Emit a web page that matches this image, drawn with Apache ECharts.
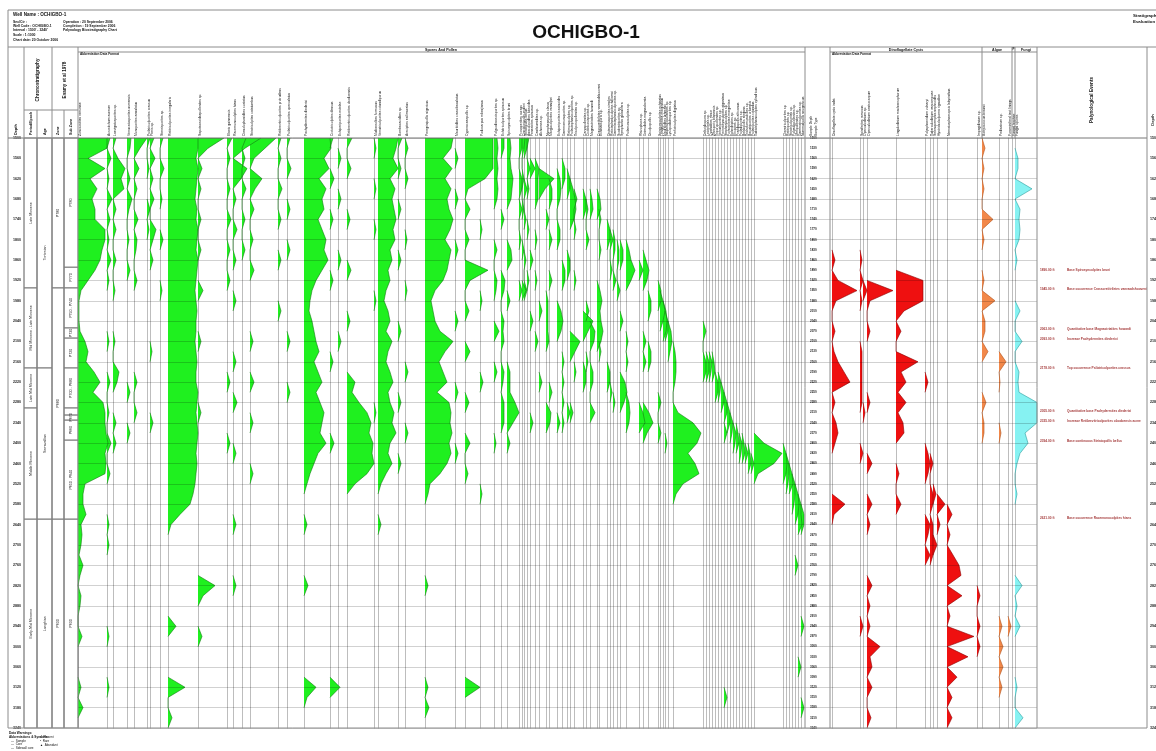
<!DOCTYPE html>
<html><head><meta charset="utf-8">
<script src="https://cdn.jsdelivr.net/npm/echarts/dist/echarts.min.js"></script>
<style>html,body{margin:0;padding:0;background:#fff}#c{width:1156px;height:751px}</style>
</head><body><div id="c"></div><script>
// ---------------- DATA ----------------
const sampleDepths = [1500,1530,1560,1590,1620,1650,1680,1710,1740,1770,1800,1830,1860,1890,1920,1950,1980,2010,2040,2070,2100,2130,2160,2190,2220,2250,2280,2310,2340,2370,2400,2430,2460,2490,2520,2550,2580,2610,2640,2670,2700,2730,2760,2790,2820,2850,2880,2910,2940,2970,3000,3030,3060,3090,3120,3150,3180,3210,3240];

const periodNames = ['Late Miocene','Mid Miocene - Late Miocene','Late Mid Miocene','Middle Miocene','Early-Mid Miocene'];
const periodBounds = [1500,1942,2178,2296,2624,3240];
const ageNames = ['Tortonian','Serravallian','Langhian'];
const ageBounds = [1500,2178,2624,3240];
const zoneNames = ['P780','P680','P630'];
const zoneBounds = [1500,1942,2624,3240];
const subzoneNames = ['P780','P770','P750 - P740','P730','P720','P700 - P680','','P670','P660','P650 - P640','P630'];
const subzoneBounds = [1500,1881,1942,2060,2090,2178,2296,2317,2332,2391,2624,3240];

const eventDepths = [1890,1945,2063,2093,2178,2305,2335,2394,2621];
const eventNames = ['Base Spirosyncolpites bruni','Base occurrence Crassoretitriletes vanraadshooveni','Quantitative base Magnastriatites howardi','Increase Pachydermites diederixi','Top occurrence Psilatricolporites crassus','Quantitative base Pachydermites diederixi','Increase Retibrevitricolporites obodoensis acme','Base continuous Striatopollis bellus','Base occurrence Racemonocolpites hians'];

const sporePollenNames = ['Zonocostites ramonae','Acrostichum aureum','Laevigatosporites sp.','Verrucatosporites usmensis','Monoporites annulatus','Psilatricolporites crassus','Pteris sp.','Stereisporites sp.','Retitricolporites irregularis','Sapotaceoidaepollenites sp.','Elaeis guineensis','Racemonocolpites hians','Ctenolophonidites costatus','Striatricolpites catatumbus','Retibrevitricolporites protrudens','Psilatricolporites operculatus','Pachydermites diederixi','Crototricolpites densus','Echiperiporites estelae','Retibrevitricolporites obodoensis','Multiareolites formosus','Verrutricolporites rotundiporus','Bombacacidites sp.','Arecipites exilimuratus','Peregrinipollis nigericus','Mauritiidites crassibaculatus','Cyperaceaepollis sp.','Podocarpus milanjianus','Polypodiaceoisporites sp.','Echitricolporites spinosus','Spirosyncolpites bruni','Proxapertites cursus','Cinctiporipollis mulleri','Striatopollis bellus','Anacolosidites luteoides','Fenestrites spinosus','Canthiumidites sp.','Alchornea sp.','Nympheaepollis clarus','Margocolporites vanwijhei','Echiperiporites icacinoides','Gemmamonoporites sp.','Retimonocolpites sp.','Psilastephanocolporites sp.','Tricolporopollenites sp.','Caryapollenites sp.','Cicatricosisporites sp.','Magnastriatites howardi','Crassoretitriletes vanraadshooveni','Echinatisporis sp.','Distaverrusporites simplex','Retistephanocolpites williamsi','Gemmastephanocolporites sp.','Scabratriporites sp.','Symphonia globulifera','Psilamonocolpites sp.','Rhizophora sp.','Grimsdalea magnaclavata','Dicolpopollis sp.','Spinizonocolpites echinatus','Longapertites marginatus','Mauritiidites lehmanii','Inaperturopollenites sp.','Lycopodiumsporites sp.','Perfotricolpites digitatus','Deltoidospora sp.','Leiotriletes sp.','Cyathidites minor','Zlivisporis blanensis','Triporopollenites sp.','Verrutriporites sp.','Periretisyncolpites giganteus','Stephanocolpites sp.','Foveotriletes margaritae','Ephedripites sp.','Ericipites sp.','Praedapollis africanus','Psiladiporites sp.','Belskipollis elegans','Trichotomosulcites sp.','Bacutriporites orluensis','Psilatriporites rotundus','Tubistephanocolpites cylindricus','Clavatricolporites sp.','Retitriporites sp.','Striatricolporites sp.','Polyadopollenites sp.','Ulmipollenites sp.','Gemmatricolporites sp.','Nummulipollis neogenicus'];

// counts: dense lists (one value per sample) or sparse [sampleIndex, count] pairs
const sporePollenCounts = [
 [29,29,10,27,12,19,14,17,17,27,27,24,22,17,10,3,1,1,1,2,7,10,8,16,22,15,25,27,27,28,30,27,28,27,7,5,5,8,3,4,3,1,5,2,0,3,2,0,0,4,0,0,0,0,3,0,5,0,0],
 [[0,3],[2,4],[4,2],[6,5],[8,3],[10,2],[12,4],[14,2],[20,2],[24,3],[27,2],[30,4],[33,3],[38,2],[40,2],[49,2],[54,2]],
 [[0,3],[2,5],[3,12],[4,8],[5,11],[7,3],[9,3],[12,3],[15,2],[20,2],[23,6],[24,4],[28,3],[30,3]],
 [[0,4],[1,3],[4,3],[6,5],[7,2],[10,2],[13,3],[25,3],[29,3]],
 [[0,13],[1,6],[3,5],[5,3],[8,4],[10,3],[11,2],[14,3],[24,3],[27,3]],
 [[0,3],[3,2],[7,3],[9,2]],
 [[0,4],[2,5],[4,3],[6,4],[9,6],[10,3],[12,3],[21,2],[28,3]],
 [[0,3],[3,4],[6,2],[10,3],[15,2]],
 [30,30,28,30,29,28,27,29,28,30,29,28,30,29,28,27,28,29,28,28,27,28,29,28,28,30,29,28,29,30,29,28,29,28,27,25,22,12,3,0,0,0,0,0,0,0,0,0,8,0,0,0,0,0,17,0,0,4,0],
 [[0,26],[1,10],[3,4],[5,3],[8,3],[11,3],[15,5],[20,3],[27,3],[44,17],[45,5],[49,4]],
 [[0,5],[2,3],[5,3],[8,4],[11,3],[14,3],[24,3],[30,3]],
 [[0,28],[1,12],[3,14],[4,8],[6,3],[9,4],[12,3],[16,3],[22,3],[26,4],[31,3],[38,3],[44,3]],
 [[0,4],[2,3],[5,4],[8,3],[11,3]],
 [[0,26],[1,15],[2,4],[4,12],[5,5],[7,4],[10,3],[13,4],[20,3],[24,4],[28,3],[33,3]],
 [[0,3],[2,3],[5,4],[8,3],[12,3],[17,3]],
 [[0,3],[3,4],[7,3],[11,3],[20,3],[25,3]],
 [26,27,20,25,15,22,18,20,14,18,22,20,24,18,12,8,6,5,8,10,12,15,10,14,18,12,16,20,18,16,22,14,10,6,3,0,0,0,3,0,0,0,0,0,4,0,0,0,0,0,0,0,0,0,12,3,0,0,0],
 [[0,3],[4,4],[8,3],[14,3],[22,3],[30,4],[54,10]],
 [[2,3],[6,3],[12,3],[20,3]],
 [[0,5],[3,4],[8,3],[13,4],[18,3],[24,8],[25,5],[26,12],[27,20],[28,24],[29,22],[30,26],[31,25],[32,27],[33,20],[34,8]],
 [[1,2],[5,2],[9,2],[16,2],[27,2]],
 [20,18,15,20,12,17,14,16,18,15,17,12,14,10,12,8,6,10,12,8,14,10,8,12,15,10,12,16,14,18,12,10,14,8,3,0,0,0,3,0,0,0,0,0,0,0,0,0,0,0,0,0,0,0,0,0,0,0,0],
 [[0,4],[3,3],[7,3],[12,3],[19,3],[26,3],[32,3]],
 [[1,3],[4,3],[10,2],[15,2],[23,3],[29,3]],
 [28,26,18,27,20,26,22,24,28,25,20,26,24,22,18,10,6,8,10,15,28,20,14,18,22,12,24,26,25,27,24,26,22,15,5,3,0,0,0,0,0,0,0,0,3,0,0,0,0,0,0,0,0,0,3,0,4,0,0],
 [[2,3],[6,3],[11,3],[18,3],[25,3],[31,3]],
 [[0,28],[1,28],[2,28],[3,28],[4,20],[5,3],[7,5],[10,4],[13,23],[14,5],[17,4],[21,5],[26,4],[30,5],[33,3],[54,15]],
 [[9,2],[16,2],[24,3],[35,2]],
 [[0,3],[1,4],[2,3],[3,4],[4,3],[5,4],[6,3],[11,3],[14,3],[15,2],[19,5],[23,3],[30,2]],
 [[0,3],[1,3],[8,3],[14,4],[15,3],[18,3],[19,2],[20,3],[23,3],[24,2],[26,3],[27,3],[28,3]],
 [[0,3],[1,4],[2,3],[3,4],[4,6],[5,5],[6,4],[11,4],[12,5],[16,3],[23,3],[24,3],[25,3],[26,8],[27,12],[28,6],[30,3]],
 [[0,3],[1,3],[4,3],[5,3],[7,3],[10,2],[15,3]],
 [[0,3],[1,2],[4,2],[7,2],[11,2],[15,4]],
 [[0,3],[1,3],[5,3],[8,2],[12,2],[15,3]],
 [[0,2],[3,3],[5,2],[9,2],[14,2]],
 [[3,5],[12,3],[18,3],[28,3]],
 [[3,4],[4,3],[5,3],[6,3],[10,2],[14,2],[20,3]],
 [[4,15],[5,6],[17,3],[24,3]],
 [[8,3],[16,2],[17,2],[18,2],[19,2],[20,3],[27,5],[28,4]],
 [[5,3],[6,3],[10,3],[14,3],[25,3]],
 [[4,3],[5,4],[6,3],[9,3],[10,3],[17,4],[18,6],[19,4],[28,3]],
 [[3,3],[4,3],[13,3],[14,3],[22,2],[24,2],[26,2],[28,2]],
 [[4,3],[5,3],[12,3],[13,3],[27,3]],
 [[5,3],[6,5],[7,6],[8,4],[20,10],[21,5],[27,3]],
 [[6,3],[9,2],[14,2],[23,2]],
 [[6,3],[7,3],[18,10],[19,5],[23,3],[24,3]],
 [[7,2],[10,3],[17,3],[22,2]],
 [[6,2],[7,3],[19,5],[20,4],[23,3],[24,3],[27,5]],
 [[6,3],[7,4],[15,3],[16,5],[17,3],[18,4],[19,6],[20,4]],
 [[8,2],[11,2],[21,2]],
 [[9,3],[10,3],[23,3],[24,3]],
 [[10,3],[13,2],[25,2]],
 [[10,2],[11,2],[14,3],[26,2]],
 [[11,2],[12,2],[15,3]],
 [[11,3],[12,3],[18,3],[24,5],[25,7],[26,4]],
 [[11,3],[12,5],[13,9],[14,5],[20,2],[22,2],[26,3],[27,4],[28,3]],
 [[13,4],[27,4],[28,6]],
 [[12,3],[13,6],[14,4],[20,3],[22,3],[27,6],[28,10],[29,4]],
 [[16,3],[17,3],[21,3],[22,3]],
 [[15,3],[16,3],[26,3],[29,3]],
 [[16,3],[17,5],[18,3]],
 [[17,3],[18,4],[19,3]],
 [[18,3],[19,3],[30,2]],
 [[19,3],[20,4],[21,2]],
 [[21,2],[22,3],[23,3],[24,2],[27,5],[28,20],[29,28],[30,24],[31,15],[32,22],[33,26],[34,10],[35,3]],
 [[19,3],[22,3],[23,3]],
 [[22,3],[23,3]],
 [[22,3],[23,2]],
 [[22,2],[23,3]],
 [[24,3],[25,3]],
 [[24,3],[25,2]],
 [[25,3],[26,3]],
 [[26,3],[27,3],[29,3],[55,3]],
 [[27,3],[28,3]],
 [[28,3],[29,2]],
 [[29,3],[30,2]],
 [[29,2],[30,3]],
 [[30,3],[31,2]],
 [[30,2],[31,3]],
 [[31,3]],
 [[31,2],[32,3]],
 [[32,3]],
 [[30,10],[31,28],[32,20],[33,4]],
 [[31,3],[32,4],[33,3]],
 [[32,3],[33,3],[34,2]],
 [[33,3],[34,4]],
 [[34,3],[35,3],[36,2]],
 [[35,3],[36,4],[37,3],[42,3]],
 [[36,3],[37,3],[38,4],[52,3]],
 [[37,3],[38,3],[48,3],[56,3]]
];

const dinocystNames = ['Dinoflagellate cysts indet.','Spiniferites ramosus','Operculodinium sp.','Operculodinium centrocarpum','Lingulodinium machaerophorum','Polysphaeridium zoharyi','Tuberculodinium vancampoae','Selenopemphix nephroides','Hystrichokolpoma rigaudiae','Nematosphaeropsis labyrinthus','Impagidinium sp.'];
const dinocystCounts = [
 [[12,3],[14,6],[15,25],[16,4],[19,3],[21,2],[22,6],[23,12],[24,18],[26,3],[28,4],[29,6],[30,3],[36,13],[37,2]],
 [[12,2],[14,3],[16,2],[21,2],[22,2],[23,2],[24,2],[25,2],[26,2],[31,3],[48,3]],
 [[15,4],[27,2]],
 [[15,26],[16,3],[19,3],[26,3],[32,5],[36,5],[38,3],[44,5],[46,3],[48,3],[50,13],[51,3],[52,5],[54,5],[57,4]],
 [[14,27],[15,27],[16,27],[17,8],[19,5],[22,22],[23,5],[24,10],[25,2],[26,10],[27,2],[28,7],[29,8],[33,3],[36,5]],
 [[24,3],[31,3],[32,5],[33,3],[38,5],[39,3],[41,5]],
 [[32,3],[35,3],[36,3],[38,3],[39,3],[40,3],[41,3]],
 [[35,3],[40,4]],
 [[36,8],[38,3]],
 [[37,5],[39,3],[41,6],[42,12],[43,14],[45,15],[47,3],[49,27],[51,21],[53,10],[55,5],[57,5]],
 [[45,3],[48,3],[50,3]]
];
const algaeNames = ['Botryococcus braunii','Pediastrum sp.','Foraminiferal test linings'];
const algaeCounts = [
 [[1,3],[3,2],[5,2],[8,11],[10,2],[14,2],[16,13],[18,3],[19,3],[21,6],[26,4],[28,2],[29,2]],
 [[22,7],[24,1],[29,2],[48,3],[50,4],[52,4],[54,3]],
 [[48,3]]
];
const fungiNames = ['Fungal hyphae','Fungal spores'];
const fungiCounts = [
 [],
 [[2,3],[3,3],[5,17],[7,5],[8,4],[9,5],[10,4],[12,2],[17,5],[20,7],[23,4],[24,3],[25,4],[26,22],[27,22],[28,22],[29,10],[30,13],[31,5],[32,2],[35,2],[44,7],[46,2],[48,5],[54,2],[57,8]]
];

// ---------------- LAYOUT ----------------
const sporePollenLeft = [78,107,113,127,134,147,150,160,168,198,227,233,242,250,278,287,304,330,338,347,374,378,398,405,425,455,465,480,494,501,507,519,522,524,527,530,535,539,546,549,557,562,567,570,574,583,586,590,597,599,607,610,613,617,620,626,639,643,648,658,660,663,665,668,673,703,706,709,712,715,718,721,724,727,730,733,736,739,742,745,748,751,754,783,786,789,792,795,798,801];
const sporePollenEnd = 805;
const dinocystLeft = [832,860,863,867,896,925,930,933,937,947,977];
const dinocystEnd = 982;
const algaeLeft = [982,999,1008];
const algaeEnd = 1012;
const fungiLeft = [1012,1015];
const fungiEnd = 1037;

const TOP = 138, BOTTOM = 728, H = BOTTOM - TOP;
const FONT = 'Liberation Sans';
const grids = [], xAxes = [], yAxes = [], series = [], graphics = [];

function expand(occ) {
  const n = sampleDepths.length;
  let arr = new Array(n).fill(0);
  if (occ.length && typeof occ[0] === 'number') arr = occ.slice();
  else occ.forEach(p => { arr[p[0]] = p[1]; });
  return arr.map((v, i) => {
    if (v > 0) return v;
    const a = i > 0 ? arr[i - 1] : 0, b = i < n - 1 ? arr[i + 1] : 0;
    return (a > 0 || b > 0) ? 0 : null;
  });
}
function addGrid(left, width) {
  const idx = grids.length;
  grids.push({ left, top: TOP, width, height: H, containLabel: false });
  return idx;
}
function addTaxon(left, width, occ, fill, stroke, name) {
  const idx = addGrid(left, width);
  xAxes.push({ gridIndex: idx, type: 'value', min: 0, max: width, show: false });
  yAxes.push({ gridIndex: idx, type: 'category', data: sampleDepths.map(String), inverse: true, boundaryGap: false,
    axisLine: { show: true, lineStyle: { color: '#bdbdbd', width: 1 } }, axisTick: { show: false }, axisLabel: { show: false }, splitLine: { show: false } });
  series.push({ type: 'line', xAxisIndex: idx, yAxisIndex: idx, data: expand(occ), symbol: 'none', clip: false, silent: true,
    connectNulls: false, lineStyle: { color: stroke, width: 0.6 }, areaStyle: { color: fill, opacity: 1 } });
  graphics.push({ type: 'text', x: left + 1.6, y: 136, rotation: Math.PI / 2,
    style: { text: name, fontSize: 3.4, fontFamily: FONT, fill: '#111', textAlign: 'left', align: 'left', textVerticalAlign: 'middle', verticalAlign: 'middle' } });
}
function addGroup(lefts, end, names, counts, fill, stroke) {
  lefts.forEach((l, k) => {
    const r = k < lefts.length - 1 ? lefts[k + 1] : end;
    addTaxon(l, r - l, counts[k], fill, stroke, names[k]);
  });
}
function addZoneColumn(left, width, bounds, names) {
  const idx = addGrid(left, width);
  xAxes.push({ gridIndex: idx, type: 'value', min: 0, max: 1, show: false });
  yAxes.push({ gridIndex: idx, type: 'value', min: sampleDepths[0], max: sampleDepths[sampleDepths.length - 1], inverse: true, show: false });
  series.push({ type: 'scatter', xAxisIndex: idx, yAxisIndex: idx, data: [[0.5, bounds[0]]], symbolSize: 0.1, silent: true,
    itemStyle: { color: 'rgba(0,0,0,0)' },
    markArea: { silent: true, itemStyle: { color: 'rgba(0,0,0,0)', borderColor: '#6a6a6a', borderWidth: 0.7 },
      label: { show: true, position: 'inside', rotate: 90, fontSize: 3.6, color: '#222', fontFamily: FONT },
      data: names.map((n, k) => [{ yAxis: bounds[k], name: n }, { yAxis: bounds[k + 1] }]) } });
}
function addDepthLabels(left, width, interval, fontSize, margin) {
  const idx = addGrid(left, width);
  xAxes.push({ gridIndex: idx, type: 'value', show: false });
  yAxes.push({ gridIndex: idx, type: 'category', data: sampleDepths.map(String), inverse: true, boundaryGap: false,
    axisLine: { show: false }, axisTick: { show: false }, splitLine: { show: false },
    axisLabel: { show: true, inside: true, interval, fontSize, margin, color: '#222', fontWeight: 'bold', fontFamily: FONT } });
}

// background horizontal grid lines (every second sample)
(function () {
  const idx = addGrid(78, 1037 - 78);
  xAxes.push({ gridIndex: idx, type: 'value', show: false });
  yAxes.push({ gridIndex: idx, type: 'category', data: sampleDepths.map(String), inverse: true, boundaryGap: false, z: 6,
    axisLine: { show: false }, axisTick: { show: false }, axisLabel: { show: false },
    splitLine: { show: true, interval: 1, lineStyle: { color: 'rgba(0,0,0,0.18)', width: 1 } } });
})();

addGroup(sporePollenLeft, sporePollenEnd, sporePollenNames, sporePollenCounts, '#1ff01f', '#137a13');
addGroup(dinocystLeft, dinocystEnd, dinocystNames, dinocystCounts, '#ef1010', '#8a0000');
addGroup(algaeLeft, algaeEnd, algaeNames, algaeCounts, '#f2884a', '#b0521c');
addGroup(fungiLeft, fungiEnd, fungiNames, fungiCounts, '#86f2f2', '#2a9c9c');

addZoneColumn(24, 13, periodBounds, periodNames);
addZoneColumn(37, 15, ageBounds, ageNames);
addZoneColumn(52, 12, zoneBounds, zoneNames);
addZoneColumn(64, 14, subzoneBounds, subzoneNames);

addDepthLabels(8, 16, 1, 3.6, 5);
addDepthLabels(1148, 8, 1, 3.6, 2);
addDepthLabels(806, 24, 0, 3, 4);

// events
(function () {
  const idx = addGrid(1040, 105);
  xAxes.push({ gridIndex: idx, type: 'value', min: 0, max: 1, show: false });
  yAxes.push({ gridIndex: idx, type: 'value', min: sampleDepths[0], max: sampleDepths[sampleDepths.length - 1], inverse: true, show: false });
  series.push({ type: 'scatter', xAxisIndex: idx, yAxisIndex: idx, symbolSize: 0.1, silent: true, itemStyle: { color: 'rgba(0,0,0,0)' },
    data: eventDepths.map((d, k) => ({ value: [0, d], name: eventNames[k] })),
    label: { show: true, position: 'right', distance: 0, fontFamily: FONT,
      formatter: p => '{d|' + p.value[1].toFixed(2) + ' ft}{t|' + p.name + '}',
      rich: { d: { width: 27, fontSize: 3.2, color: '#8b0000', fontWeight: 'bold', fontFamily: FONT },
              t: { fontSize: 3.2, color: '#8b0000', fontWeight: 'bold', fontFamily: FONT } } } });
})();

// ---------------- FRAME & HEADER TEXT ----------------
function line(x1, y1, x2, y2, c, w) {
  graphics.push({ type: 'line', shape: { x1, y1, x2, y2 }, style: { stroke: c || '#8c8c8c', lineWidth: w || 1 }, z: 20 });
}
function text(t, x, y, size, opts) {
  opts = opts || {};
  graphics.push({ type: 'text', x, y, rotation: opts.rot ? Math.PI / 2 : 0, z: 21,
    style: { text: t, fontSize: size, fontFamily: FONT, fontWeight: opts.bold ? 'bold' : 'normal', fill: opts.color || '#111',
      textAlign: opts.align || 'left', align: opts.align || 'left', textVerticalAlign: opts.va || 'middle', verticalAlign: opts.va || 'middle' } });
}
line(8, 10, 1156, 10); line(8, 47, 1156, 47); line(8, 10, 8, 728);
line(8, 728, 1147, 728); line(8, 138, 1147, 138, '#777');
line(24, 47, 24, 728); line(52, 47, 52, 728); line(78, 47, 78, 728);
line(37, 110, 37, 728); line(64, 110, 64, 728); line(24, 110, 78, 110);
line(78, 52, 805, 52); line(805, 47, 805, 728); line(830, 47, 830, 728);
line(830, 52, 1037, 52); line(982, 47, 982, 138); line(1012, 47, 1012, 138); line(1015, 47, 1015, 138);
line(1037, 47, 1037, 728); line(1147, 47, 1147, 728);

text('OCHIGBO-1', 586, 33, 19, { bold: true, align: 'center' });
text('Well Name : OCHIGBO-1', 13, 15, 4.6, { bold: true });
text('Sec/Ctr :', 13, 22, 3.4, { bold: true });
text('Well Code : OCHIGBO-1', 13, 26, 3.4, { bold: true });
text('Interval : 1500\' - 3240\'', 13, 30, 3.4, { bold: true });
text('Scale : 1:1000', 13, 35, 3.4, { bold: true });
text('Chart date: 20 October 2006', 13, 40, 3.4, { bold: true });
text('Operation : 20 September 2006', 63, 22, 3.4, { bold: true });
text('Completion : 19 September 2006', 63, 26, 3.4, { bold: true });
text('Palynology Biostratigraphy Chart', 63, 30, 3.4, { bold: true });
text('Stratigraphic', 1133, 16, 4.4, { bold: true });
text('Evaluation', 1133, 22, 4.4, { bold: true });

text('Chronostratigraphy', 38, 80, 4.6, { bold: true, rot: true, align: 'center' });
text('Evamy et al 1978', 65, 80, 4.6, { bold: true, rot: true, align: 'center' });
text('Depth', 16, 135, 3.8, { bold: true, rot: true });
text('Period/Epoch', 30.5, 135, 3.6, { bold: true, rot: true });
text('Age', 44.5, 135, 3.6, { bold: true, rot: true });
text('Zone', 58, 135, 3.6, { bold: true, rot: true });
text('Sub Zone', 71, 135, 3.6, { bold: true, rot: true });

text('Spores And Pollen', 441, 49.5, 3.6, { bold: true, align: 'center' });
text('Abbreviation Data Format', 80, 54.5, 3.2, { bold: true });
text('Sample Depth', 811, 136, 3.2, { rot: true });
text('Sample Type', 816, 136, 3.2, { rot: true });
text('Dinoflagellate Cysts', 906, 49.5, 3.6, { bold: true, align: 'center' });
text('Abbreviation Data Format', 832, 54.5, 3.2, { bold: true });
text('Algae', 997, 49.5, 3.6, { bold: true, align: 'center' });
text('F', 1013.5, 49.5, 3.2, { bold: true, align: 'center' });
text('Fungi', 1026, 49.5, 3.6, { bold: true, align: 'center' });
text('Palynological Events', 1092, 100, 4.6, { bold: true, rot: true, align: 'center' });
text('Depth', 1153, 120, 4, { bold: true, rot: true, align: 'center' });

text('Data Warnings:', 9, 733, 3.2, { bold: true });
text('Abbreviations & Symbols:', 9, 737, 3.2, { bold: true });
text('—  Sample', 11, 741, 3, {});
text('—  Core', 11, 744.5, 3, {});
text('—  Sidewall core', 11, 748, 3, {});
text('x  Present', 40, 737, 3, {});
text('•  Rare', 40, 741, 3, {});
text('▲  Abundant', 40, 745, 3, {});

const chart = echarts.init(document.getElementById('c'), null, { renderer: 'canvas' });
chart.setOption({ animation: false, backgroundColor: '#fff', grid: grids, xAxis: xAxes, yAxis: yAxes, series, graphic: { elements: graphics } });
</script></body></html>
